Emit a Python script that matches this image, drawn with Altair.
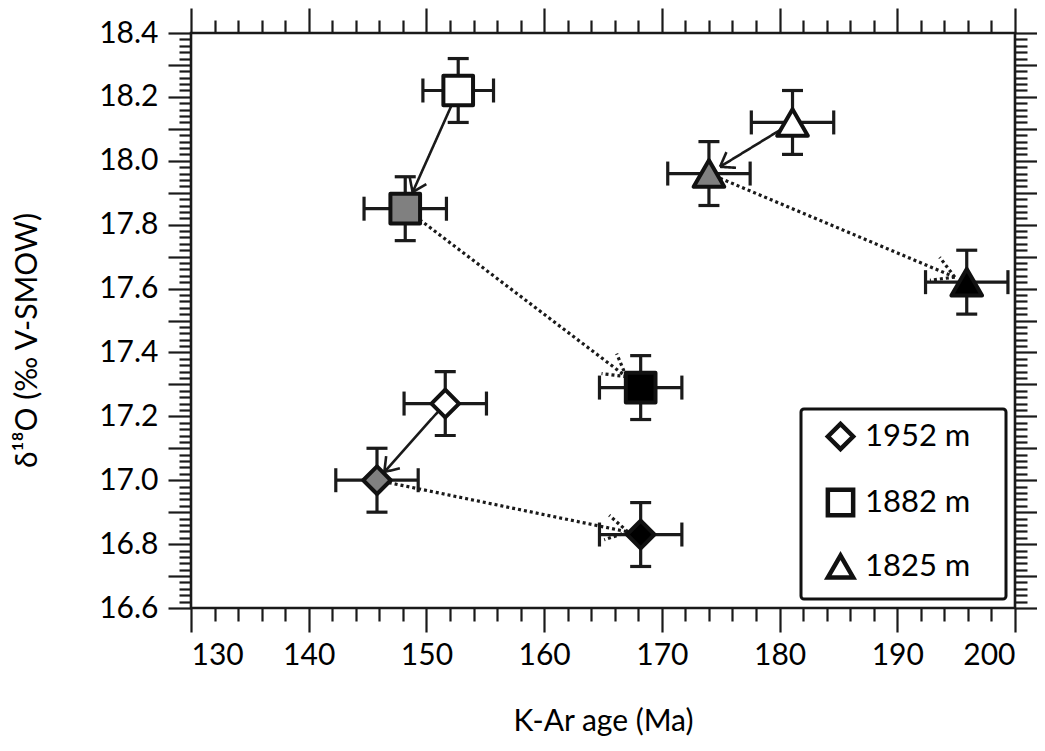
import math
import altair as alt
import pandas as pd

# ---------------- data ----------------
sites = ["1952 m", "1882 m", "1825 m"]
stages = ["open", "gray", "solid"]

age_1952 = [151.6, 145.8, 168.2]
age_1882 = [152.7, 148.2, 168.2]
age_1825 = [181.1, 174.0, 195.9]

d18o_1952 = [17.24, 17.00, 16.83]
d18o_1882 = [18.22, 17.85, 17.29]
d18o_1825 = [18.12, 17.96, 17.62]

age_err_1952 = [3.5, 3.5, 3.5]
age_err_1882 = [3.0, 3.5, 3.5]
age_err_1825 = [3.5, 3.5, 3.5]

d18o_err = [0.1, 0.1, 0.1]

shapes = ["diamond", "square", "triangle-up"]
marker_sizes = {"1952 m": 760, "1882 m": 880, "1825 m": 940}
fills = ["#ffffff", "#808080", "#000000"]

# arrows: open -> gray (solid), gray -> solid (dotted)
arrow_from = [0, 1]
arrow_to = [1, 2]
arrow_style = ["solid", "dotted"]
tip_gap = {"1952 m": [11, 13], "1882 m": [18, 18], "1825 m": [13, 13]}
head_len = [16, 25]
head_angle = [35, 30]

x_major = [130, 140, 150, 160, 170, 180, 190, 200]

XMIN, XMAX = 130, 200
YMIN, YMAX = 16.6, 18.4
W, H = 824, 575
FONT = "Lato"
INK = "#1a1a1a"

ages = {"1952 m": age_1952, "1882 m": age_1882, "1825 m": age_1825}
d18o = {"1952 m": d18o_1952, "1882 m": d18o_1882, "1825 m": d18o_1825}
age_errs = {"1952 m": age_err_1952, "1882 m": age_err_1882, "1825 m": age_err_1825}

rows = []
for s in sites:
    for i, st in enumerate(stages):
        rows.append(dict(site=s, stage=st, age=ages[s][i], d=d18o[s][i], msize=marker_sizes[s],
                         xlo=ages[s][i] - age_errs[s][i], xhi=ages[s][i] + age_errs[s][i],
                         ylo=d18o[s][i] - d18o_err[i], yhi=d18o[s][i] + d18o_err[i]))
pts = pd.DataFrame(rows)

KX = W / (XMAX - XMIN)
KY = H / (YMAX - YMIN)
lines, barbs = [], []
for s in sites:
    for k in range(2):
        xs, ys = ages[s][arrow_from[k]], d18o[s][arrow_from[k]]
        xt, yt = ages[s][arrow_to[k]], d18o[s][arrow_to[k]]
        dxp, dyp = (xt - xs) * KX, -(yt - ys) * KY
        L = math.hypot(dxp, dyp)
        ux, uy = dxp / L, dyp / L
        g = tip_gap[s][k]
        tx, ty = xt - g * ux / KX, yt + g * uy / KY
        lines.append(dict(x=xs, y=ys, x2=tx, y2=ty, style=arrow_style[k]))
        for sign in (1, -1):
            a = math.radians(sign * head_angle[k])
            bx = -ux * math.cos(a) + uy * math.sin(a)
            by = -ux * math.sin(a) - uy * math.cos(a)
            barbs.append(dict(x=tx, y=ty, x2=tx + head_len[k] * bx / KX,
                              y2=ty - head_len[k] * by / KY, style=arrow_style[k]))
lines = pd.DataFrame(lines)
barbs = pd.DataFrame(barbs)

xs_ = alt.Scale(domain=[XMIN, XMAX], nice=False, zero=False)
ys_ = alt.Scale(domain=[YMIN, YMAX], nice=False, zero=False)

x_minor = [v for v in range(130, 201, 2) if v % 10 != 0]
y_mid = [round(16.6 + 0.1 * i, 1) for i in range(19)]
y_minor = [round(16.6 + 0.02 * i, 2) for i in range(91) if i % 5 != 0]

common = dict(domain=False, grid=False, tickColor=INK, tickWidth=2.2,
              labelFont=FONT, labelFontSize=30, labelColor="#000000")

ax_bottom = alt.Axis(orient="bottom", values=x_major, tickSize=24, labelPadding=8,
                     format="d", title="K-Ar age (Ma)", titleFont=FONT, titleFontSize=30,
                     titleFontWeight="normal", titleColor="#000000", titleY=113,
                     titleBaseline="middle", **common)
ax_left = alt.Axis(orient="left", values=y_mid, tickSize=23, labelPadding=10,
                   labelExpr="round(datum.value*10) % 2 == 0 ? format(datum.value, '.1f') : ''",
                   title="δ¹⁸O (‰ V-SMOW)", titleFont=FONT, titleFontSize=30,
                   titleFontWeight="normal", titleColor="#000000", titleAngle=270,
                   titleX=-164, titleY=307, titleAlign="center", titleBaseline="middle",
                   **common)
ax_bottom_minor = alt.Axis(orient="bottom", values=x_minor, tickSize=13, labels=False, title=None, **common)
ax_left_minor = alt.Axis(orient="left", values=y_minor, tickSize=12, labels=False, title=None, **common)
ax_top = alt.Axis(orient="top", values=x_major, tickSize=25, labels=False, title=None, **common)
ax_right = alt.Axis(orient="right", values=y_mid, tickSize=23, labels=False, title=None, **common)
ax_top_minor = alt.Axis(orient="top", values=x_minor, tickSize=13, labels=False, title=None, **common)
ax_right_minor = alt.Axis(orient="right", values=y_minor, tickSize=12, labels=False, title=None, **common)

dash = alt.StrokeDash("style:N", scale=alt.Scale(domain=["solid", "dotted"], range=[[1, 0], [3, 3]]), legend=None)
swidth = alt.StrokeWidth("style:N", scale=alt.Scale(domain=["solid", "dotted"], range=[2.6, 3.2]), legend=None)

line_layer = alt.Chart(lines).mark_rule(color=INK, strokeCap="butt").encode(
    x=alt.X("x:Q", scale=xs_, axis=ax_bottom), y=alt.Y("y:Q", scale=ys_, axis=ax_left),
    x2="x2:Q", y2="y2:Q", strokeDash=dash, strokeWidth=swidth)

barb_layer = alt.Chart(barbs).mark_rule(color=INK, strokeCap="butt").encode(
    x=alt.X("x:Q", scale=xs_, axis=ax_bottom_minor), y=alt.Y("y:Q", scale=ys_, axis=ax_left_minor),
    x2="x2:Q", y2="y2:Q", strokeDash=dash, strokeWidth=swidth)

xerr = alt.Chart(pts).mark_rule(color=INK, strokeWidth=3.2).encode(
    x=alt.X("xlo:Q", scale=xs_, axis=ax_top), x2="xhi:Q",
    y=alt.Y("d:Q", scale=ys_, axis=ax_right))

yerr = alt.Chart(pts).mark_rule(color=INK, strokeWidth=3.2).encode(
    x=alt.X("age:Q", scale=xs_, axis=ax_top_minor),
    y=alt.Y("ylo:Q", scale=ys_, axis=ax_right_minor), y2="yhi:Q")

cap_style = dict(color=INK, opacity=1)
xcap_lo = alt.Chart(pts).mark_tick(orient="vertical", size=24, thickness=3.2, **cap_style).encode(
    x=alt.X("xlo:Q", scale=xs_, axis=None), y=alt.Y("d:Q", scale=ys_, axis=None))
xcap_hi = alt.Chart(pts).mark_tick(orient="vertical", size=24, thickness=3.2, **cap_style).encode(
    x=alt.X("xhi:Q", scale=xs_, axis=None), y=alt.Y("d:Q", scale=ys_, axis=None))
ycap_lo = alt.Chart(pts).mark_tick(orient="horizontal", size=21, thickness=3.2, **cap_style).encode(
    x=alt.X("age:Q", scale=xs_, axis=None), y=alt.Y("ylo:Q", scale=ys_, axis=None))
ycap_hi = alt.Chart(pts).mark_tick(orient="horizontal", size=21, thickness=3.2, **cap_style).encode(
    x=alt.X("age:Q", scale=xs_, axis=None), y=alt.Y("yhi:Q", scale=ys_, axis=None))

markers = alt.Chart(pts).mark_point(filled=True, stroke="#111111", strokeWidth=4,
                                    strokeJoin="round", opacity=1).encode(
    x=alt.X("age:Q", scale=xs_, axis=None),
    y=alt.Y("d:Q", scale=ys_, axis=None),
    shape=alt.Shape("site:N", scale=alt.Scale(domain=sites, range=shapes),
                    legend=alt.Legend(title=None, orient="bottom-right", offset=9,
                                      padding=12, rowPadding=21, labelOffset=9,
                                      symbolOffset=12,
                                      labelExpr="datum.label + '\u2800'",
                                      symbolSize=640, symbolStrokeWidth=4.5,
                                      symbolFillColor="#ffffff", symbolStrokeColor="#111111",
                                      labelFont=FONT, labelFontSize=31, labelColor="#000000",
                                      strokeColor="#111111", fillColor="#ffffff",
                                      cornerRadius=3)),
    fill=alt.Fill("stage:N", scale=alt.Scale(domain=stages, range=fills), legend=None),
    size=alt.Size("msize:Q", scale=None),
)

chart = alt.layer(line_layer, barb_layer, xerr, yerr, xcap_lo, xcap_hi, ycap_lo, ycap_hi, markers
).resolve_scale(x="shared", y="shared").resolve_axis(x="independent", y="independent").properties(
    width=W, height=H,
    padding={"left": 183, "top": 25, "right": 22, "bottom": 135},
    autosize=alt.AutoSizeParams(type="none"),
    background="#ffffff",
).configure_view(stroke=INK, strokeWidth=2.6).configure_legend(
    strokeWidth=3, symbolStrokeWidth=4.5,
    symbolBaseFillColor="#ffffff", symbolBaseStrokeColor="#111111")

chart.save("out.html", embed_options={"renderer": "svg", "actions": False})
